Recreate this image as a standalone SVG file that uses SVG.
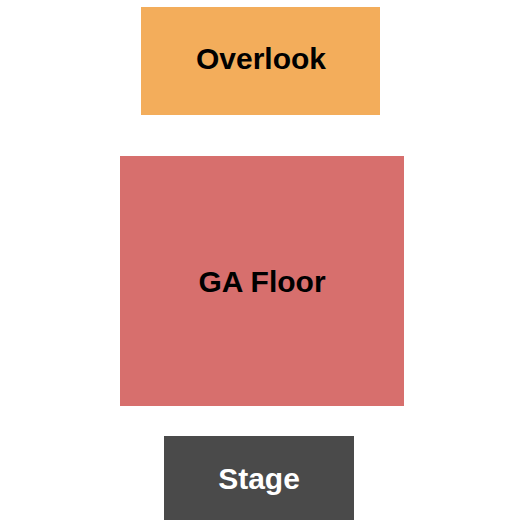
<svg xmlns="http://www.w3.org/2000/svg" width="525" height="525" viewBox="0 0 525 525">
<style>
text{font-family:"Liberation Sans",Arial,sans-serif;font-weight:bold;font-size:30px;text-anchor:middle}
</style>
<rect width="525" height="525" fill="#ffffff"/>
<g id="overlook">
<rect x="141" y="7" width="239" height="108" fill="#F3AD5B"/>
<text x="261" y="69" fill="#000">Overlook</text>
</g>
<g id="ga-floor">
<rect x="120" y="156" width="284" height="250" fill="#D76F6D"/>
<text x="262" y="292" fill="#000">GA Floor</text>
</g>
<g id="stage">
<rect x="164" y="436" width="190" height="84" fill="#4A4A4A"/>
<text x="259" y="489" fill="#fff">Stage</text>
</g>
<g id="connectors"/>
</svg>
